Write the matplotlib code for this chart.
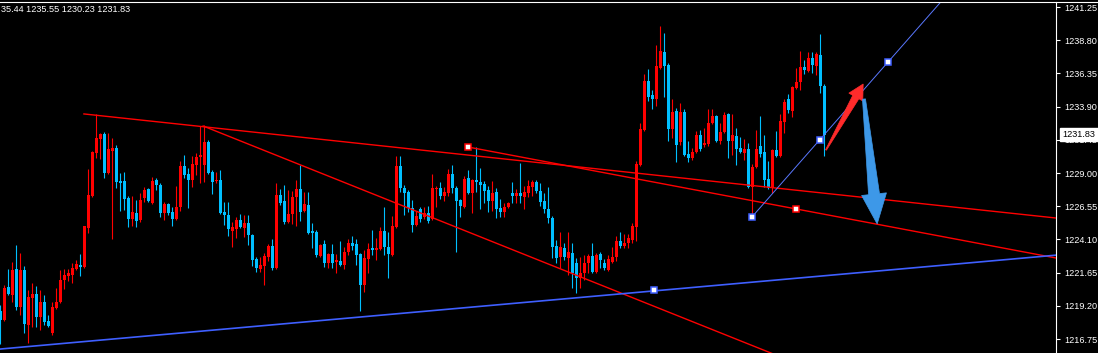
import matplotlib
matplotlib.use("Agg")
import matplotlib.pyplot as plt
import numpy as np
from matplotlib.lines import Line2D
from matplotlib.patches import Polygon

plt.rcParams["font.family"] = ["Liberation Sans", "DejaVu Sans"]

# OHLC, one value per 5-minute bar
opens = [1218.82, 1218.15, 1220.59, 1220.00, 1221.91, 1219.11, 1221.84, 1217.78, 1219.78, 1220.07,
         1218.37, 1219.48, 1218.08, 1217.20, 1219.04, 1219.48, 1221.11, 1221.40, 1221.48, 1221.91,
         1222.21, 1222.06, 1224.94, 1227.30, 1230.48, 1231.51, 1231.88, 1229.00, 1230.63, 1230.85,
         1228.41, 1228.41, 1227.16, 1225.61, 1226.05, 1225.53, 1227.16, 1227.82, 1226.79, 1228.49,
         1228.12, 1226.05, 1226.71, 1226.12, 1225.61, 1226.49, 1229.52, 1228.93, 1228.49, 1229.59,
         1230.18, 1229.59, 1231.29, 1229.07, 1228.41, 1228.49, 1226.12, 1225.90, 1224.72, 1224.87,
         1225.53, 1224.94, 1225.31, 1224.43, 1222.66, 1221.91, 1222.14, 1222.80, 1223.62, 1221.99,
         1227.38, 1226.94, 1225.39, 1225.98, 1227.23, 1227.82, 1226.20, 1226.64, 1224.72, 1224.65,
         1222.88, 1223.77, 1222.36, 1223.03, 1222.43, 1222.51, 1222.21, 1223.17, 1223.84, 1223.77,
         1223.03, 1220.74, 1222.66, 1223.47, 1223.32, 1223.40, 1224.72, 1223.54, 1222.95, 1225.02,
         1229.52, 1227.90, 1227.60, 1226.42, 1225.16, 1226.35, 1225.75, 1226.05, 1225.61, 1227.82,
         1227.90, 1227.30, 1227.53, 1228.93, 1227.90, 1227.01, 1226.49, 1228.63, 1227.53, 1228.49,
         1228.34, 1228.19, 1227.75, 1226.94, 1227.60, 1226.42, 1226.12, 1226.49, 1227.53, 1227.30,
         1227.53, 1227.23, 1227.53, 1227.97, 1228.34, 1227.67, 1226.94, 1226.35, 1225.68, 1223.62,
         1222.80, 1223.47, 1222.73, 1223.10, 1222.36, 1221.25, 1221.62, 1222.36, 1222.88, 1221.70,
         1223.03, 1222.36, 1221.84, 1222.43, 1222.80, 1223.99, 1223.62, 1223.84, 1224.06, 1225.02,
         1229.59, 1232.18, 1235.79, 1234.76, 1234.46, 1236.75, 1237.93, 1236.97, 1232.25, 1233.58,
         1231.29, 1233.50, 1230.40, 1230.11, 1230.55, 1231.81, 1231.07, 1231.14, 1232.69, 1233.21,
         1231.36, 1232.03, 1233.36, 1231.36, 1231.73, 1230.85, 1230.48, 1230.77, 1227.97, 1229.44,
         1231.00, 1230.55, 1228.56, 1227.90, 1230.70, 1230.26, 1232.77, 1234.46, 1233.58, 1235.28,
         1235.72, 1236.83, 1236.53, 1237.49, 1236.90, 1237.71, 1235.44]
highs = [1219.26, 1220.74, 1221.91, 1222.43, 1223.69, 1223.10, 1222.14, 1220.37, 1220.89, 1220.66,
         1220.37, 1220.00, 1218.52, 1219.48, 1220.52, 1221.84, 1221.91, 1221.91, 1222.36, 1222.58,
         1223.03, 1225.09, 1229.30, 1230.63, 1233.36, 1231.96, 1232.03, 1231.96, 1231.59, 1231.07,
         1229.00, 1229.07, 1227.30, 1227.30, 1227.01, 1227.53, 1227.97, 1227.90, 1228.71, 1228.63,
         1228.27, 1226.86, 1226.79, 1226.49, 1228.04, 1229.89, 1230.33, 1229.37, 1230.26, 1230.48,
         1232.47, 1232.55, 1231.44, 1229.22, 1229.07, 1229.22, 1226.86, 1226.86, 1225.39, 1225.75,
         1225.98, 1225.90, 1225.90, 1224.50, 1222.80, 1222.80, 1223.10, 1223.77, 1224.13, 1228.27,
         1227.82, 1228.12, 1227.75, 1227.67, 1228.49, 1229.59, 1227.60, 1227.60, 1225.31, 1224.80,
         1223.75, 1224.06, 1223.10, 1223.77, 1223.03, 1223.99, 1223.54, 1224.13, 1224.35, 1224.13,
         1223.10, 1223.32, 1223.84, 1224.80, 1224.21, 1225.02, 1226.49, 1224.65, 1225.83, 1230.26,
         1230.26, 1228.12, 1227.75, 1227.01, 1226.20, 1226.49, 1226.49, 1226.57, 1228.93, 1228.04,
         1228.34, 1227.97, 1229.30, 1229.59, 1228.04, 1227.08, 1228.78, 1229.22, 1228.56, 1230.92,
         1229.37, 1228.41, 1228.04, 1228.41, 1227.90, 1227.08, 1226.79, 1226.86, 1228.34, 1227.82,
         1229.74, 1228.04, 1228.49, 1228.49, 1228.49, 1228.27, 1227.53, 1227.97, 1225.83, 1224.06,
         1224.65, 1223.84, 1224.65, 1223.84, 1222.73, 1222.80, 1222.95, 1223.03, 1223.84, 1223.10,
         1223.17, 1222.66, 1222.95, 1223.54, 1224.35, 1224.65, 1224.50, 1224.50, 1225.31, 1229.89,
         1232.69, 1236.31, 1236.68, 1235.13, 1238.45, 1239.85, 1239.33, 1237.12, 1234.46, 1233.80,
         1234.17, 1233.73, 1231.36, 1230.85, 1232.10, 1232.18, 1232.32, 1233.73, 1233.73, 1233.28,
         1232.69, 1233.50, 1233.43, 1233.36, 1232.32, 1231.66, 1231.51, 1231.22, 1229.67, 1232.18,
         1233.21, 1231.81, 1229.89, 1230.77, 1232.10, 1233.36, 1234.46, 1234.83, 1235.42, 1236.75,
         1238.01, 1237.34, 1237.93, 1237.93, 1237.93, 1239.26, 1235.55]
lows = [1216.38, 1218.08, 1220.00, 1219.48, 1218.89, 1218.52, 1217.20, 1216.46, 1217.64, 1217.64,
        1217.42, 1217.78, 1217.64, 1217.05, 1218.96, 1219.41, 1220.44, 1221.04, 1220.89, 1221.84,
        1221.40, 1221.99, 1224.57, 1227.23, 1230.11, 1230.04, 1228.63, 1228.93, 1224.13, 1227.90,
        1226.20, 1226.27, 1225.02, 1225.09, 1225.02, 1225.39, 1226.86, 1226.86, 1226.71, 1227.75,
        1225.75, 1225.53, 1225.90, 1225.09, 1225.53, 1226.20, 1228.63, 1226.42, 1227.97, 1228.85,
        1228.27, 1228.34, 1228.93, 1227.45, 1228.27, 1225.98, 1225.16, 1224.35, 1223.54, 1224.21,
        1224.94, 1224.28, 1223.69, 1222.14, 1221.70, 1221.70, 1220.74, 1222.51, 1221.84, 1221.91,
        1226.64, 1225.24, 1225.31, 1225.24, 1225.09, 1225.46, 1226.12, 1224.50, 1223.47, 1222.80,
        1222.80, 1222.06, 1221.99, 1221.99, 1221.62, 1222.14, 1221.91, 1222.95, 1223.32, 1222.21,
        1218.82, 1220.22, 1221.62, 1222.95, 1222.58, 1223.32, 1222.95, 1221.25, 1222.88, 1224.94,
        1227.60, 1225.90, 1226.12, 1224.65, 1225.09, 1225.39, 1225.61, 1225.31, 1225.53, 1226.49,
        1227.08, 1226.94, 1227.30, 1227.53, 1223.17, 1225.75, 1226.42, 1227.45, 1226.05, 1227.60,
        1226.35, 1226.79, 1226.12, 1226.20, 1225.68, 1225.75, 1225.75, 1226.42, 1226.79, 1226.79,
        1226.79, 1226.35, 1227.23, 1227.30, 1227.53, 1226.57, 1226.05, 1225.31, 1222.73, 1222.36,
        1221.99, 1222.58, 1221.48, 1220.52, 1220.15, 1220.52, 1221.11, 1221.62, 1221.62, 1221.62,
        1221.99, 1221.84, 1221.77, 1222.36, 1222.51, 1223.47, 1223.47, 1223.47, 1223.84, 1223.99,
        1229.52, 1232.10, 1234.32, 1233.73, 1233.95, 1236.68, 1234.61, 1231.36, 1231.59, 1229.81,
        1231.07, 1230.26, 1229.81, 1229.96, 1230.48, 1230.63, 1230.92, 1231.00, 1232.62, 1231.29,
        1231.14, 1231.96, 1230.11, 1230.33, 1229.59, 1230.48, 1229.96, 1227.90, 1225.75, 1229.37,
        1230.18, 1227.97, 1227.82, 1227.53, 1230.18, 1230.18, 1231.96, 1233.43, 1233.13, 1235.20,
        1235.13, 1236.31, 1236.46, 1236.38, 1236.23, 1234.91, 1230.23]
closes = [1218.15, 1220.52, 1220.07, 1221.84, 1219.11, 1221.84, 1217.86, 1219.85, 1220.07, 1218.37,
          1219.48, 1218.00, 1217.71, 1219.11, 1219.48, 1221.11, 1221.48, 1221.62, 1221.99, 1222.28,
          1222.06, 1225.09, 1227.38, 1230.55, 1231.59, 1231.88, 1229.00, 1230.77, 1230.85, 1228.34,
          1228.27, 1227.08, 1225.61, 1226.12, 1225.46, 1227.01, 1227.75, 1226.94, 1228.41, 1228.12,
          1226.05, 1226.71, 1226.05, 1225.61, 1226.49, 1229.52, 1228.85, 1228.49, 1229.67, 1230.18,
          1230.33, 1231.29, 1229.00, 1228.34, 1228.49, 1226.05, 1225.90, 1224.87, 1225.02, 1225.53,
          1225.02, 1225.31, 1224.43, 1222.58, 1221.99, 1222.21, 1222.88, 1223.62, 1221.99, 1227.38,
          1226.79, 1225.39, 1225.98, 1227.23, 1227.82, 1226.12, 1226.71, 1224.57, 1224.57, 1222.95,
          1223.69, 1222.36, 1223.03, 1222.36, 1222.58, 1222.21, 1223.17, 1223.84, 1223.62, 1222.95,
          1220.74, 1222.73, 1223.40, 1223.32, 1223.47, 1224.72, 1223.54, 1223.03, 1225.09, 1229.52,
          1227.90, 1227.53, 1226.42, 1225.16, 1225.83, 1225.61, 1226.05, 1225.46, 1227.90, 1227.90,
          1227.30, 1227.60, 1228.93, 1227.90, 1226.94, 1226.57, 1228.56, 1227.53, 1228.49, 1228.34,
          1228.12, 1227.67, 1226.94, 1227.53, 1226.35, 1226.12, 1226.49, 1226.79, 1227.30, 1227.53,
          1227.30, 1227.60, 1228.04, 1228.34, 1227.67, 1226.86, 1226.35, 1225.68, 1223.54, 1222.73,
          1223.54, 1222.80, 1223.17, 1221.62, 1221.25, 1221.62, 1222.36, 1222.88, 1221.70, 1222.95,
          1222.58, 1221.99, 1222.66, 1222.80, 1223.99, 1223.62, 1223.84, 1224.21, 1225.09, 1229.67,
          1232.25, 1235.79, 1234.61, 1234.46, 1236.90, 1238.01, 1236.90, 1232.25, 1233.50, 1231.07,
          1233.50, 1230.33, 1230.11, 1230.55, 1231.81, 1230.77, 1231.22, 1232.69, 1233.21, 1231.36,
          1232.03, 1233.28, 1231.36, 1231.81, 1230.77, 1230.55, 1230.77, 1227.97, 1229.44, 1230.77,
          1230.40, 1228.49, 1227.90, 1230.70, 1230.26, 1232.84, 1234.24, 1233.65, 1235.35, 1235.72,
          1236.83, 1236.60, 1237.49, 1236.97, 1237.79, 1235.42, 1231.83]

# price axis
tick_prices = [1216.75, 1219.20, 1221.65, 1224.10, 1226.55, 1229.00,
               1231.45, 1233.90, 1236.35, 1238.80, 1241.25]
last_price = 1231.83
header = "35.44 1235.55 1230.23 1231.83"

# drawn objects: (bar index, price)
red_lines = [[(20.9, 1233.36), (263.9, 1225.68)],
             [(50.7, 1232.47), (300.0, 1203.05)],
             [(116.9, 1230.92), (270.0, 1222.39)]]
blue_lines = [[(-2.0, 1215.96), (270.0, 1223.10)],
              [(187.9, 1225.76), (245.0, 1244.95)]]
red_anchors = [(116.9, 1230.92), (198.9, 1226.35)]
blue_anchors = [(163.4, 1220.38), (187.9, 1225.76), (204.9, 1231.47), (221.9, 1237.19)]
red_arrow = [(206.4, 1230.70), (215.7, 1235.57)]
blue_arrow = [(215.9, 1234.46), (219.2, 1225.24)]

UP = "#ff0000"
DOWN = "#00bfff"

fig = plt.figure(figsize=(10.98, 3.53), dpi=100, facecolor="black")
ax = fig.add_axes([0, 0, 1056 / 1098, 351 / 353])
ax.set_facecolor("black")
ax.set_xlim(-0.075, 263.9)
ax.set_ylim(1215.72, 1241.62)

o = np.array(opens)
h = np.array(highs)
l = np.array(lows)
c = np.array(closes)
idx = np.arange(len(o))
cols = np.where(c >= o, UP, DOWN)

ax.vlines(idx, l, h, colors=cols, linewidth=0.8, zorder=2)
ax.bar(idx, np.maximum(np.abs(c - o), 0.07), bottom=np.minimum(o, c),
       width=0.75, color=cols, linewidth=0, zorder=2)

for seg in red_lines:
    xs, ys = zip(*seg)
    ax.plot(xs, ys, color="#ff0000", lw=1.0, zorder=3)
xs, ys = zip(*blue_lines[0])
ax.plot(xs, ys, color="#3f5fff", lw=1.2, zorder=3)
xs, ys = zip(*blue_lines[1])
ax.plot(xs, ys, color="#5a78ff", lw=0.7, zorder=3)

for px, py in red_anchors:
    ax.plot(px, py, "s", ms=4.2, mfc="white", mec="#ff0000", mew=1.1, zorder=5)
for px, py in blue_anchors:
    ax.plot(px, py, "s", ms=4.2, mfc="white", mec="#3f5fff", mew=1.1, zorder=5)


def arrow_shape(tail, tip, w_tail, w_base, head_w, head_len, color):
    # tapered MT4-style arrow built in pixel space, then mapped back to data
    p0 = ax.transData.transform(tail)
    p1 = ax.transData.transform(tip)
    d = p1 - p0
    u = d / np.hypot(*d)
    n = np.array([-u[1], u[0]])
    base = p1 - u * head_len
    pts = [p0 + n * w_tail / 2, base + n * w_base / 2, base + n * head_w / 2, p1,
           base - n * head_w / 2, base - n * w_base / 2, p0 - n * w_tail / 2]
    pts = ax.transData.inverted().transform(np.array(pts))
    ax.add_patch(Polygon(pts, closed=True, fc=color, ec=color, lw=0.5, zorder=6))


arrow_shape(red_arrow[0], red_arrow[1], 1.0, 7.0, 16.0, 15.0, "#ff2b2b")
arrow_shape(blue_arrow[0], blue_arrow[1], 3.0, 11.0, 25.0, 30.0, "#3d98e8")

for side in ["left", "top", "bottom"]:
    ax.spines[side].set_visible(False)
ax.spines["right"].set_color("white")
ax.spines["right"].set_linewidth(0.8)
ax.set_xticks([])
ax.yaxis.tick_right()
ax.set_yticks(tick_prices)
ax.set_yticklabels([f"{t:.2f}" for t in tick_prices])
ax.tick_params(axis="y", colors="white", length=3, width=0.8, labelsize=6.6, pad=3)

ax.annotate(f"{last_price:.2f}", xy=(1, last_price), xycoords=("axes fraction", "data"),
            xytext=(4.8, 0), textcoords="offset points", ha="left", va="center",
            fontsize=6.6, color="black", annotation_clip=False,
            bbox=dict(boxstyle="square,pad=0.25", fc="white", ec="white"))

fig.add_artist(Line2D([0, 1], [1 - 1.5 / 353] * 2, color="white", lw=0.8))
fig.text(1 / 1098, 1 - 9 / 353, header, color="white", fontsize=6.6, ha="left", va="center")

fig.savefig("out.png", dpi=100, facecolor="black")
